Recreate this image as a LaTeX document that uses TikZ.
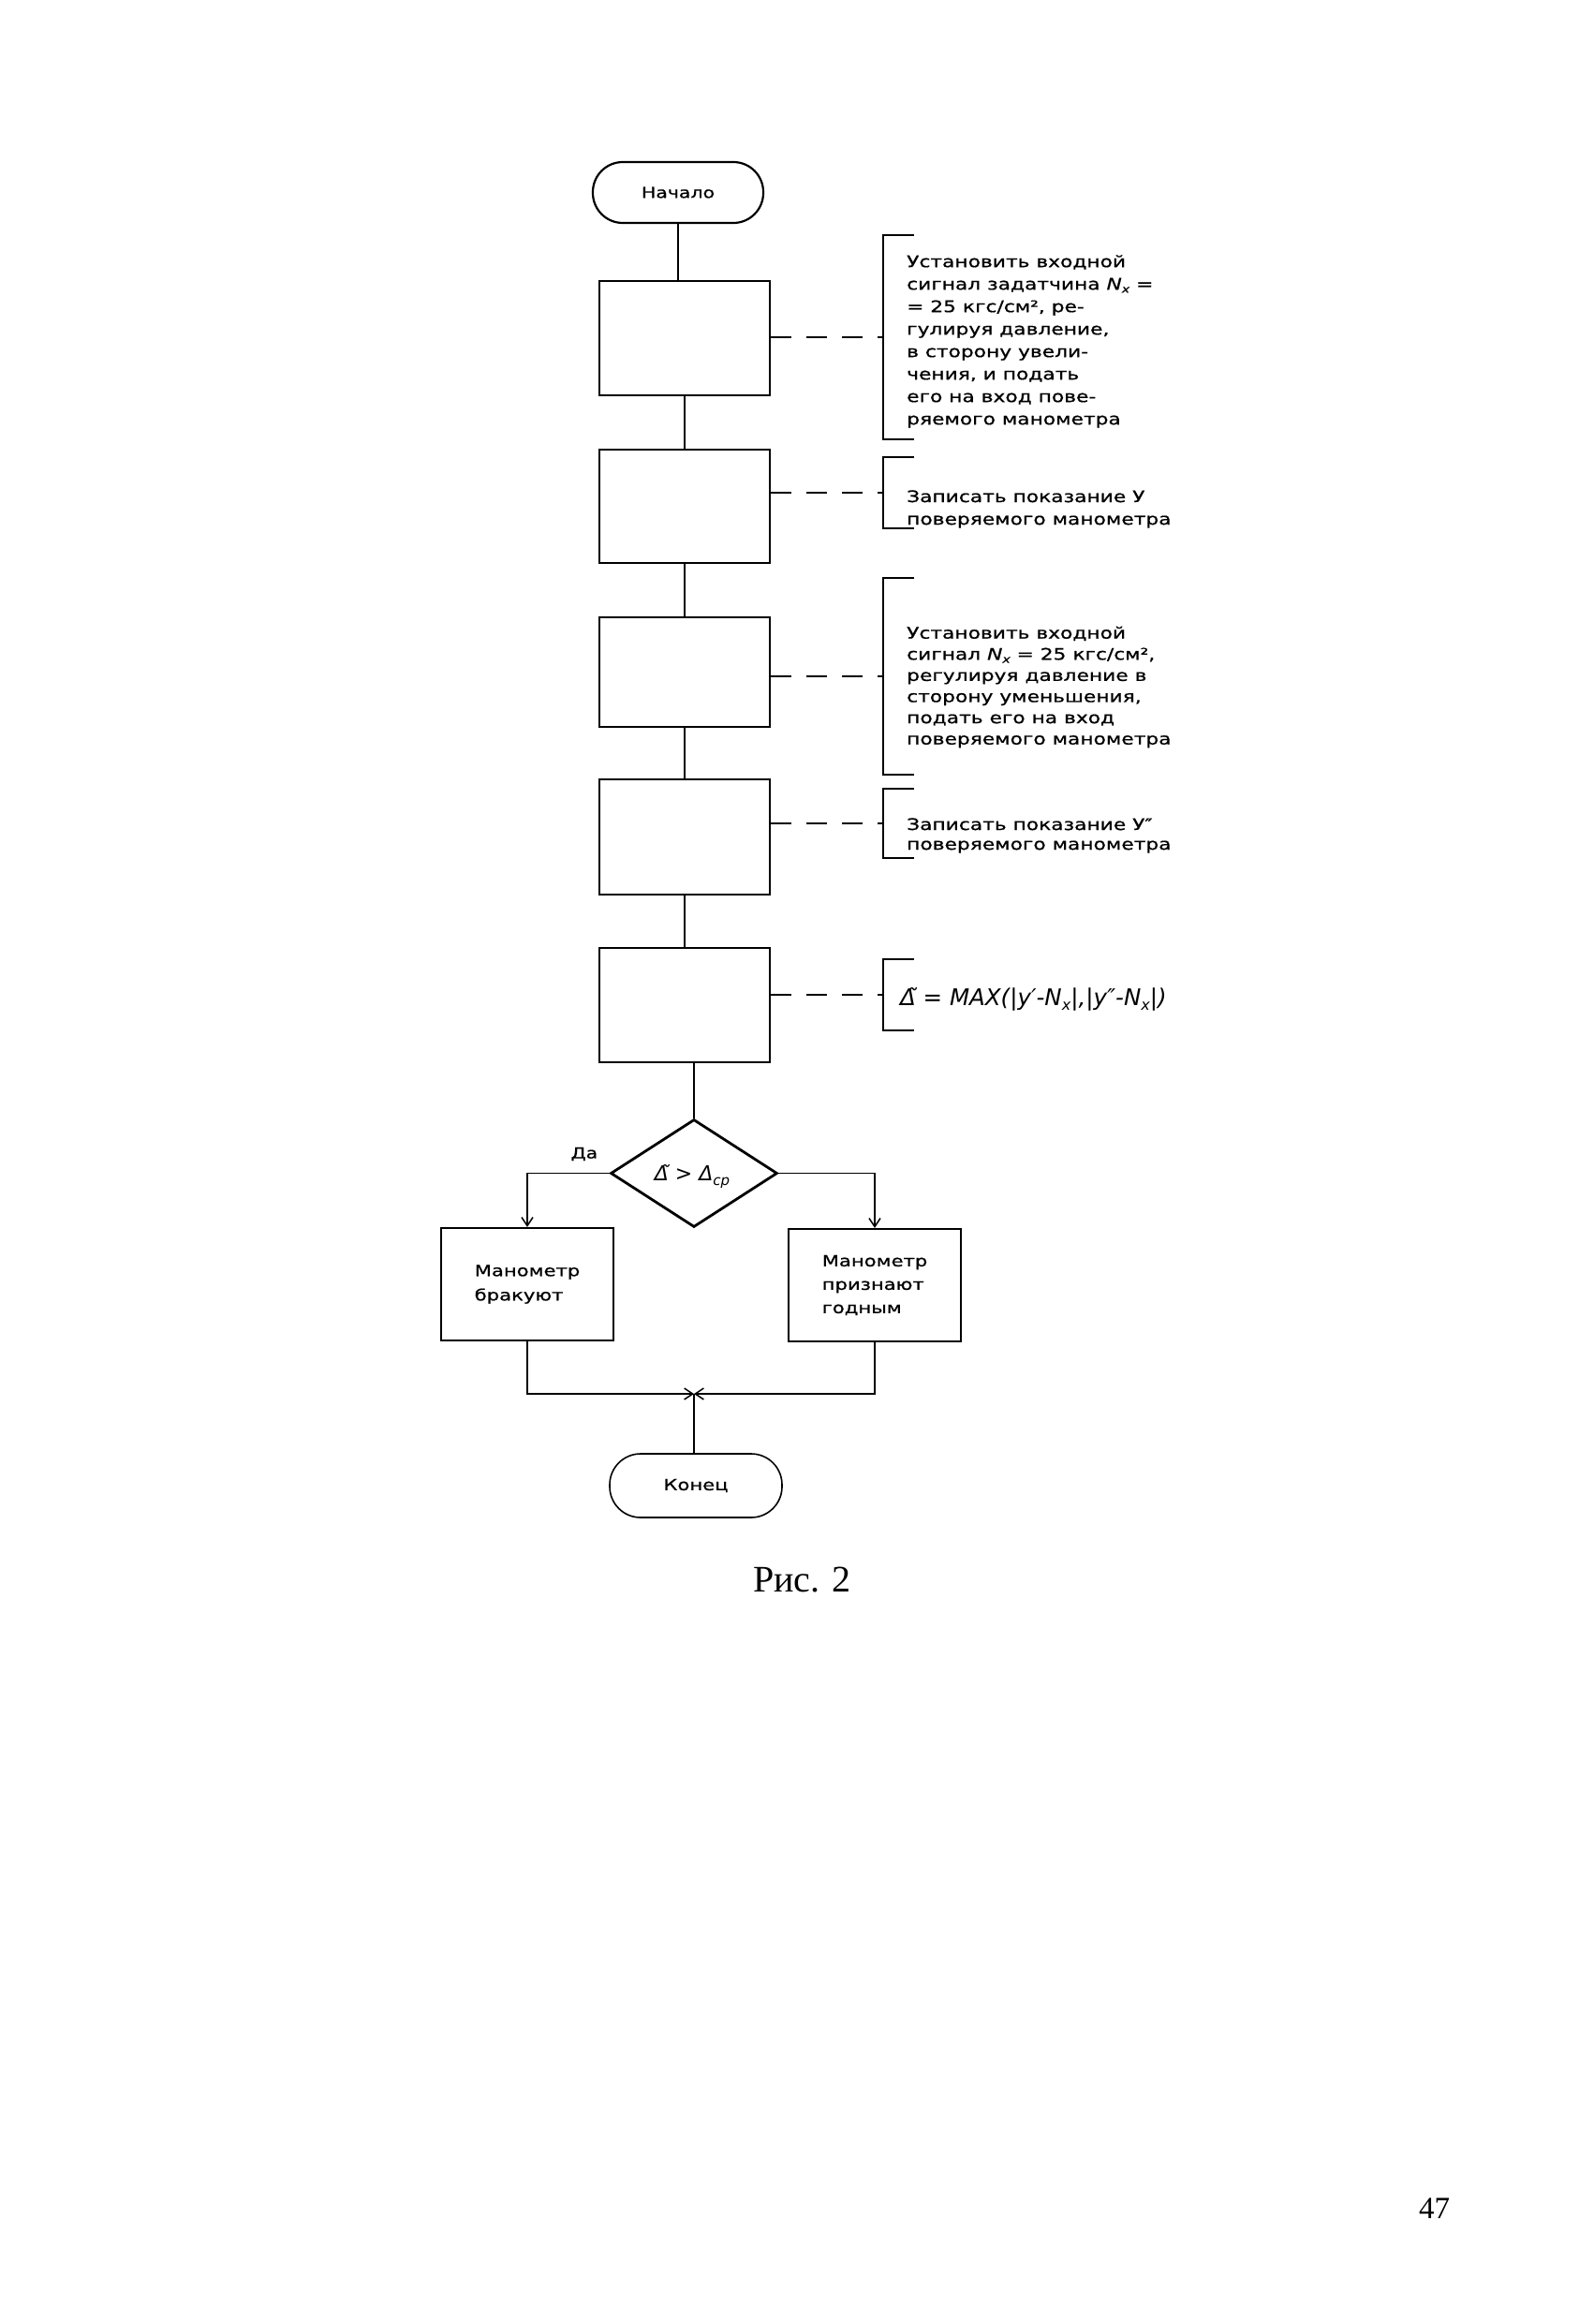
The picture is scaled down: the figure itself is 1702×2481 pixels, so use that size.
\documentclass[tikz,border=0pt]{standalone}
\usepackage{fontspec}
\usetikzlibrary{arrows.meta,shapes.geometric}
\newfontfamily\fsans[FakeStretch=1.28,FakeBold=0.8]{DejaVu Sans}
\newfontfamily\fmath{DejaVu Sans}
\newfontfamily\fserif{Liberation Serif}
\newcommand\annfont{\fsans\fontsize{17}{24}\selectfont}
\newcommand\boxfont{\fsans\fontsize{16.5}{26}\selectfont}
\newcommand\termfont{\fsans\fontsize{16}{20}\selectfont}
\newcommand\Nx{{\itshape N\raisebox{-0.35ex}{\fontsize{11}{11}\selectfont x}}}
\newcommand\Sx{\raisebox{-0.35ex}{\fontsize{16}{16}\selectfont x}}
\begin{document}
\begin{tikzpicture}[x=1pt,y=-1pt,
  box/.style={draw,line width=2.6pt,minimum width=182pt,inner sep=0pt},
  obox/.style={draw,line width=2.2pt,minimum width=184pt,minimum height=120pt,inner sep=0pt,align=left,font=\boxfont},
  term/.style={draw,line width=2.2pt,rounded corners=32pt,minimum width=182pt,minimum height=65pt,inner sep=0pt,font=\termfont},
  dec/.style={draw,diamond,shape aspect=1.55,line width=2.8pt,minimum width=178pt,minimum height=115pt,inner sep=0pt},
  flow/.style={line width=1.5pt},
  lead/.style={line width=2.2pt,dash pattern=on 22pt off 16pt},
  brk/.style={line width=1.8pt},
  brknode/.style={inner sep=0pt,minimum width=33pt},
  ann/.style={anchor=west,align=left,inner sep=0pt,font=\annfont},
  arr/.style={-{Straight Barb[length=9pt,width=12pt]}}
]
\useasboundingbox (0,0) rectangle (1702,2481);
\fill[white] (0,0) rectangle (1702,2481);

% main column
\node[term] (start) at (724,205.5) {Начало};
\node[box,minimum height=122pt] (b1) at (731,361) {};
\node[box,minimum height=121pt] (b2) at (731,540.5) {};
\node[box,minimum height=117pt] (b3) at (731,717.5) {};
\node[box,minimum height=123pt] (b4) at (731,893.5) {};
\node[box,minimum height=122pt] (b5) at (731,1073) {};
\node[dec] (d) at (741,1252.5) {};
\node[font=\fmath\itshape\fontsize{22}{24}\selectfont] (dt) at (739,1256) {Δ̃ > Δ\raisebox{-0.35ex}{\fontsize{15}{15}\selectfont ср}};

\draw[flow] (start.south) -- (start.south |- b1.north);
\draw[flow] (b1.south) -- (b2.north);
\draw[flow] (b2.south) -- (b3.north);
\draw[flow] (b3.south) -- (b4.north);
\draw[flow] (b4.south) -- (b5.north);
\draw[flow] (d.north |- b5.south) -- (d.north);

% brackets
\node[brknode,minimum height=218pt] (k1) at (959.5,360) {};
\node[brknode,minimum height=75pt] (k2) at (959.5,526) {};
\node[brknode,minimum height=209pt] (k3) at (959.5,722) {};
\node[brknode,minimum height=74pt] (k4) at (959.5,879) {};
\node[brknode,minimum height=76pt] (k5) at (959.5,1062) {};
\foreach \k in {k1,k2,k3,k4,k5}{
  \draw[brk] (\k.north east) -- (\k.north west) -- (\k.south west) -- (\k.south east);
}
\draw[lead] (b1.east |- k1.west) -- (k1.west);
\draw[lead] (b2.east |- k2.west) -- (k2.west);
\draw[lead] (b3.east |- k3.west) -- (k3.west);
\draw[lead] (b4.east |- k4.west) -- (k4.west);
\draw[lead] (b5.east |- k5.west) -- (k5.west);

% annotation texts
\node[ann] (n1) at (968,364.5) {Установить входной\\сигнал задатчина \Nx\ =\\= 25 кгс/см², ре-\\гулируя давление,\\в сторону увели-\\чения, и подать\\его на вход пове-\\ряемого манометра};
\node[ann] (n2) at (968,543.5) {Записать показание У\\поверяемого манометра};
\node[ann,font=\fsans\fontsize{17}{22.6}\selectfont] (n3) at (968,733.5) {Установить входной\\сигнал \Nx\ = 25 кгс/см²,\\регулируя давление в\\сторону уменьшения,\\подать его на вход\\поверяемого манометра};
\node[ann,font=\fsans\fontsize{17}{21}\selectfont] (n4) at (968,892) {Записать показание У″\\поверяемого манометра};
\node[ann,font=\fmath\itshape\fontsize{24.5}{26}\selectfont] (n5) at (961,1067) {Δ̃ = MAX(|y′-N\Sx|,|y″-N\Sx|)};

% branches
\node[obox] (L) at (563,1371) {Манометр\\бракуют};
\node[obox,font=\fsans\fontsize{16.5}{25}\selectfont] (R) at (934,1372) {Манометр\\признают\\годным};
\node[font=\termfont] (da) at (624,1232) {Да};
\draw[flow,arr] (d.west) -| (L.north);
\draw[flow,arr] (d.east) -| (R.north);

\coordinate (J) at (741,1488);
\draw[flow,arr] (L.south) |- (J);
\draw[flow,arr] (R.south) |- (J);
\node[term,line width=1.6pt,minimum width=184pt,minimum height=68pt,rounded corners=33pt,font=\fsans\fontsize{16.5}{20}\selectfont] (end) at (743,1586) {Конец};
\draw[flow] (J) -- (J |- end.north);

% caption and page number
\node[font=\fserif\fontsize{40}{44}\selectfont] (cap) at (856.5,1687) {Рис. 2};
\node[font=\fserif\fontsize{33}{36}\selectfont] (pg) at (1531.5,2358) {47};
\end{tikzpicture}
\end{document}
